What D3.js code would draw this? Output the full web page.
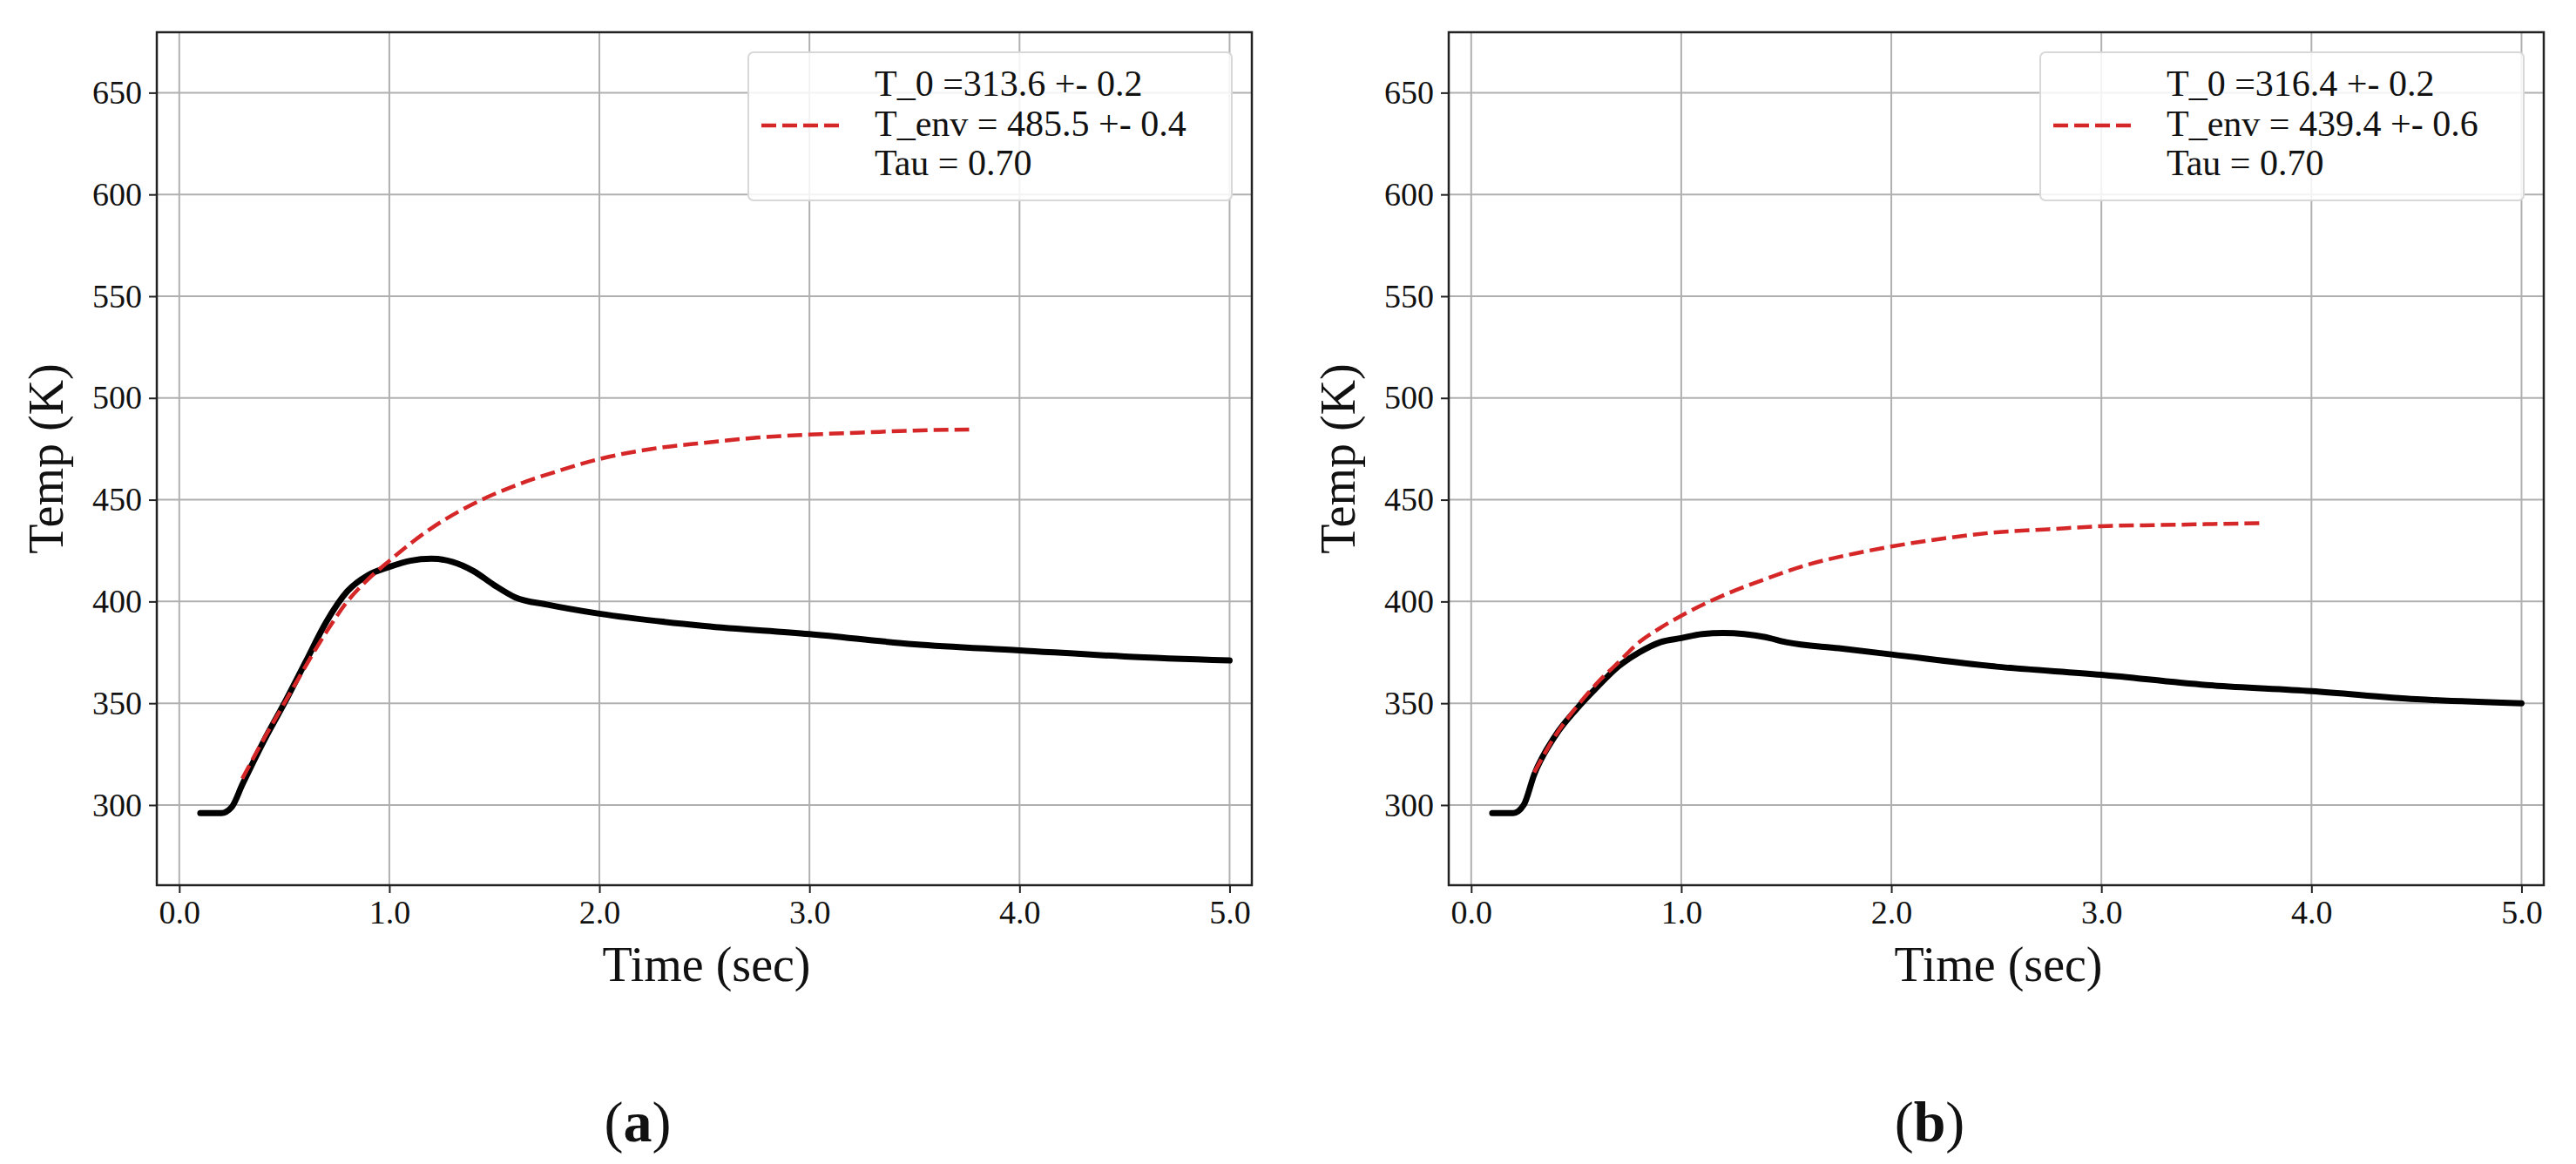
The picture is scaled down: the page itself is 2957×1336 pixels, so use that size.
<!DOCTYPE html>
<html><head><meta charset="utf-8">
<script src="https://cdn.jsdelivr.net/npm/d3@7"></script>
<style>body{margin:0;background:#fff}svg{display:block}</style>
</head><body>
<script>
const timesA = [0.1,0.2,0.25,0.3,0.4,0.5,0.6,0.7,0.8,0.9,1.0,1.1,1.2,1.3,1.4,1.5,1.6,1.75,2.0,2.5,3.0,3.5,4.0,4.5,5.0];
const tempA  = [296,296,299,310,331,350,370,390,405,413,417,420,421,419.5,415,408,402,398.5,394,388,384,379,376,373,371];
const fitTimes = [0.3,0.4,0.5,0.6,0.7,0.8,0.9,1.0,1.2,1.4,1.6,1.8,2.0,2.25,2.5,2.75,3.0,3.25,3.5,3.76];
const fitA  = [313,332,350,368,385,400,411,420,436,448,457,464,470,475,478,480.5,482,483,484,484.5];
const timesB = [0.1,0.2,0.25,0.3,0.4,0.5,0.6,0.7,0.8,0.9,1.0,1.1,1.2,1.3,1.4,1.5,1.75,2.0,2.5,3.0,3.5,4.0,4.5,5.0];
const tempB  = [296,296,300,315,334,347,358,368,375,380,382,384,384.5,384,382.5,380,377,374,368,364,359,356,352,350];
const fitB  = [316,334,348,360,370,380,387,393,403,411,418,423,427,431,434,435.5,437,437.5,438,438.5];
const legendA = ["T_0 =313.6 +- 0.2","T_env = 485.5 +- 0.4","Tau = 0.70"];
const legendB = ["T_0 =316.4 +- 0.2","T_env = 439.4 +- 0.6","Tau = 0.70"];
const xTicks = [0,1,2,3,4,5];
const yTicks = [300,350,400,450,500,550,600,650];
const panels = [
  {left:180, t:timesA, v:tempA, f:fitA, leg:legendA, tag:"a"},
  {left:1663, t:timesB, v:tempB, f:fitB, leg:legendB, tag:"b"}
];
const W=2957,H=1336, pTop=37, pBottom=1016, pw=1257;
const font="'Liberation Serif','Times New Roman',serif";
const svg=d3.select("body").append("svg").attr("width",W).attr("height",H);
panels.forEach(p=>{
  const x=d3.scaleLinear().domain([-0.107,5.106]).range([p.left,p.left+pw]);
  const y=d3.scaleLinear().domain([260.6,679.7]).range([pBottom,pTop]);
  const g=svg.append("g");
  g.selectAll(".gx").data(xTicks).join("line").attr("x1",d=>x(d)).attr("x2",d=>x(d))
    .attr("y1",pTop).attr("y2",pBottom).attr("stroke","#b0b0b0").attr("stroke-width",2);
  g.selectAll(".gy").data(yTicks).join("line").attr("y1",d=>y(d)).attr("y2",d=>y(d))
    .attr("x1",p.left).attr("x2",p.left+pw).attr("stroke","#b0b0b0").attr("stroke-width",2);
  const line=d3.line().curve(d3.curveMonotoneX);
  g.append("path").attr("d",line(p.t.map((t,i)=>[x(t),y(p.v[i])])))
    .attr("fill","none").attr("stroke","#000").attr("stroke-width",7).attr("stroke-linecap","round");
  g.append("path").attr("d",line(fitTimes.map((t,i)=>[x(t),y(p.f[i])])))
    .attr("fill","none").attr("stroke","#d62728").attr("stroke-width",4.5).attr("stroke-dasharray","17,7");
  const ax=g.append("g").attr("transform",`translate(0,${pBottom})`).call(d3.axisBottom(x).tickValues(xTicks).tickSize(9).tickPadding(8));
  const ay=g.append("g").attr("transform",`translate(${p.left},0)`).call(d3.axisLeft(y).tickValues(yTicks).tickSize(9).tickPadding(8));
  [ax,ay].forEach(a=>{a.select(".domain").remove();a.selectAll("line").attr("stroke","#222").attr("stroke-width",2);
    a.selectAll("text").attr("font-family",font).attr("font-size",38).attr("fill","#111");});
  g.append("rect").attr("x",p.left).attr("y",pTop).attr("width",pw).attr("height",pBottom-pTop)
    .attr("fill","none").attr("stroke","#222").attr("stroke-width",2.5);
  const lx=p.left+679, ly=60;
  g.append("rect").attr("x",lx).attr("y",ly).attr("width",555).attr("height",170).attr("rx",6)
    .attr("fill","rgba(255,255,255,0.85)").attr("stroke","#d8d8d8").attr("stroke-width",2);
  g.append("line").attr("x1",lx+15).attr("x2",lx+105).attr("y1",144).attr("y2",144)
    .attr("stroke","#d62728").attr("stroke-width",4.5).attr("stroke-dasharray","17,7");
  p.leg.forEach((s,i)=>g.append("text").attr("x",lx+145).attr("y",110+i*45.5).text(s)
    .attr("font-family",font).attr("font-size",42).attr("fill","#111"));
  g.append("text").attr("x",p.left+631).attr("y",1126).attr("text-anchor","middle").text("Time (sec)")
    .attr("font-family",font).attr("font-size",56).attr("fill","#111");
  g.append("text").attr("transform",`translate(${p.left-108},${(pTop+pBottom)/2}) rotate(-90)`).attr("text-anchor","middle")
    .text("Temp (K)").attr("font-family",font).attr("font-size",56).attr("fill","#111");
  const tg=g.append("text").attr("x",p.left+552).attr("y",1310).attr("text-anchor","middle")
    .attr("font-family",font).attr("font-size",66).attr("fill","#111");
  tg.append("tspan").text("(");
  tg.append("tspan").attr("font-weight","bold").text(p.tag);
  tg.append("tspan").text(")");
});
</script>
</body></html>
